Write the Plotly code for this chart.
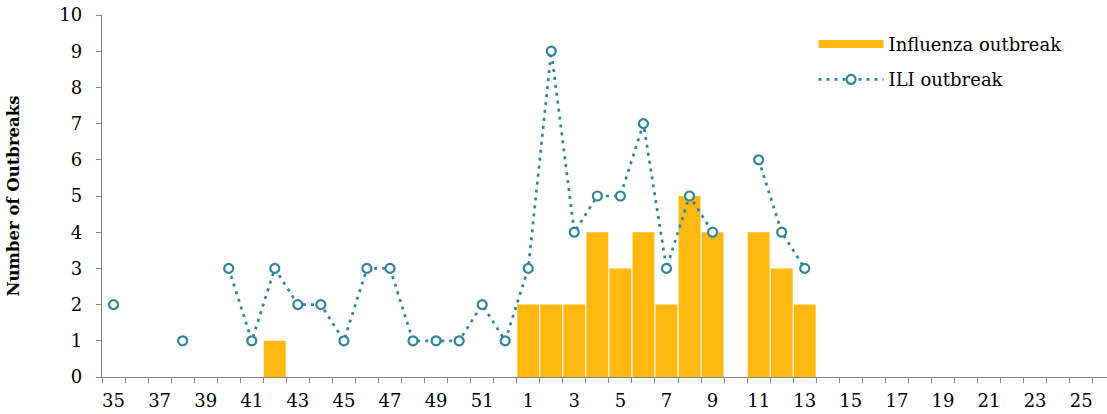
import plotly.graph_objects as go

weeks = list(range(35, 53)) + list(range(1, 27))
ili_outbreaks = [2, None, None, 1, None, 3, 1, 3, 2, 2, 1, 3, 3, 1, 1, 1, 2, 1,
                 3, 9, 4, 5, 5, 7, 3, 5, 4, None, 6, 4, 3] + [None] * 13
influenza_outbreaks = [None] * 7 + [1] + [None] * 10 + \
                      [2, 2, 2, 4, 3, 4, 2, 5, 4, None, 4, 3, 2] + [None] * 13
tick_labels = [str(w) for w in weeks]

ORANGE = "#FFB80F"
TEAL = "#31859C"
GREY = "#868686"
FONT = "DejaVu Serif"

idx = list(range(len(weeks)))

fig = go.Figure()
fig.add_trace(go.Bar(x=idx, y=influenza_outbreaks, marker=dict(color=ORANGE, line=dict(width=0)),
                     showlegend=False, name="Influenza outbreak"))
fig.add_trace(go.Scatter(x=[None], y=[None], mode="lines", name="Influenza outbreak",
                         line=dict(color=ORANGE, width=8), legendgroup="a"))
fig.add_trace(go.Scatter(x=idx, y=ili_outbreaks, mode="lines+markers", name="ILI outbreak",
                         line=dict(color=TEAL, width=2.7, dash="3px,5px"),
                         marker=dict(symbol="circle", size=9, color="white",
                                     line=dict(color=TEAL, width=2.2)),
                         connectgaps=False, legendgroup="b"))

fig.update_layout(
    width=1107, height=414,
    margin=dict(l=102, r=0, t=15, b=37, autoexpand=False),
    paper_bgcolor="white", plot_bgcolor="white",
    bargap=0.05,
    font=dict(family=FONT, color="black"),
    legend=dict(x=0.708, xanchor="left", y=0.97, yanchor="top",
                font=dict(family=FONT, size=18, color="black"),
                itemwidth=65, traceorder="grouped", tracegroupgap=9,
                bgcolor="rgba(0,0,0,0)"),
    xaxis=dict(range=[-0.5, 43.12], tickmode="array",
               tickvals=[i for i in idx if i % 2 == 0],
               ticktext=[tick_labels[i] for i in idx if i % 2 == 0],
               ticks="", showgrid=False, zeroline=False,
               showline=True, linecolor=GREY, linewidth=1.3,
               tickfont=dict(family=FONT, size=18, color="black"),
               ticklabelstandoff=7, ticklabeloverflow="allow", automargin=False,
               minor=dict(tickmode="array", tickvals=[i - 0.5 for i in range(len(weeks) + 1)],
                          ticks="outside", ticklen=5, tickcolor=GREY, tickwidth=1.3,
                          showgrid=False)),
    yaxis=dict(range=[0, 10], dtick=1, ticks="outside", ticklen=5, tickcolor=GREY,
               tickwidth=1.3, showgrid=False, zeroline=False,
               showline=True, linecolor=GREY, linewidth=1.3,
               tickfont=dict(family=FONT, size=18, color="black"),
               ticklabelstandoff=10, ticklabeloverflow="allow", automargin=False,
               title=dict(text="<b>Number of Outbreaks</b>",
                          font=dict(family=FONT, size=16.5, color="black"),
                          standoff=35)),
)

# remove the browser's default 8px page margin so the figure fills the window exactly
fig.write_html("out.html", config={"displayModeBar": False},
               post_script="document.body.style.margin='0px';")
